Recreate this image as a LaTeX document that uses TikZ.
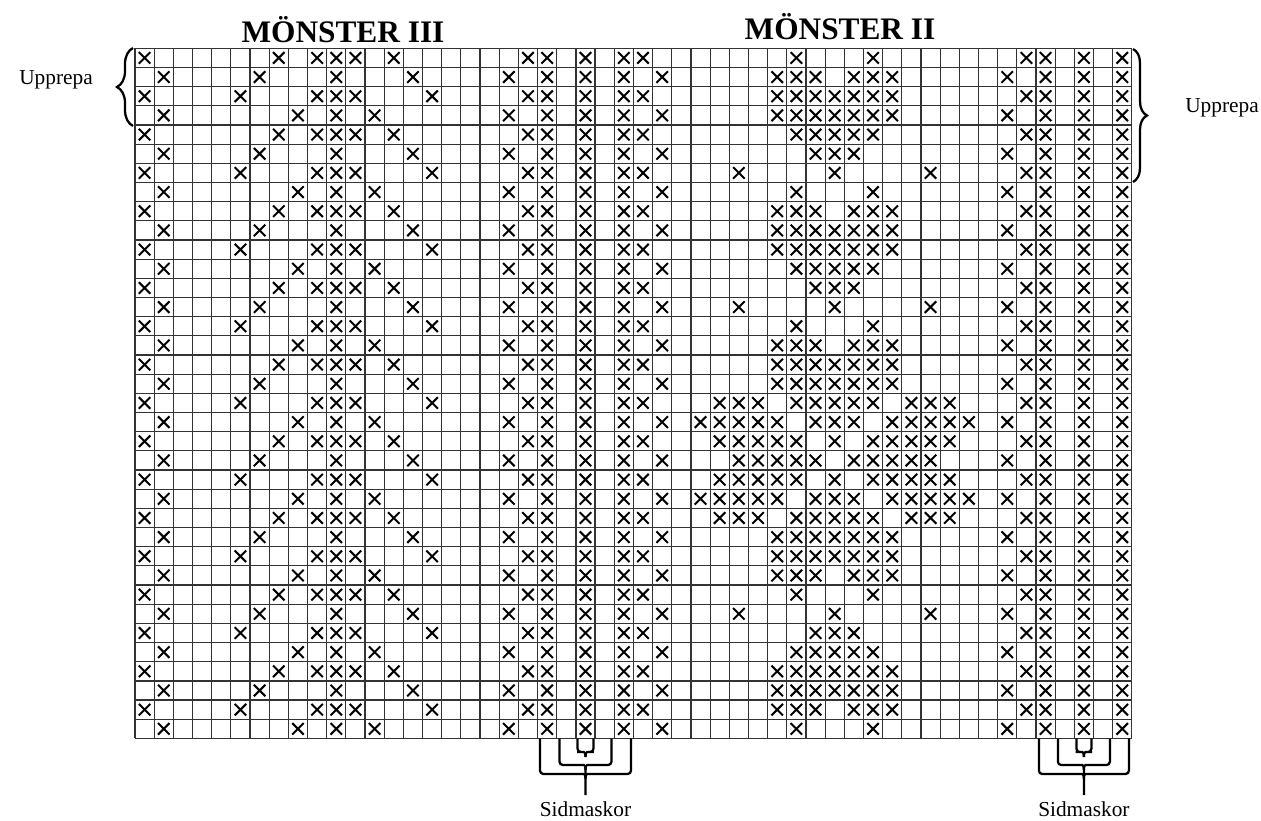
\documentclass[tikz,border=0pt]{standalone}
\usepackage{fontspec}
\setmainfont{Liberation Serif}
\usetikzlibrary{decorations.pathreplacing}
\tikzset{
  gl/.style={line width=0.9pt, draw=black!80},
  xmk/.style={line width=1.5pt},
  brc/.style={line width=1.7pt},
  lbl/.style={font=\fontsize{16}{18}\selectfont, inner sep=0pt, anchor=base},
  ttl/.style={font=\fontsize{23.5}{26}\selectfont\bfseries, inner sep=0pt, anchor=base},
}
\newcommand\xm[2]{\draw[xmk] ({#1+0.2},{#2+0.2}) -- ({#1+0.8},{#2+0.8}) ({#1+0.2},{#2+0.8}) -- ({#1+0.8},{#2+0.2});}
% bracket: center x, half width, bottom y, tip y
\newcommand\bkt[4]{%
  \draw[brc] ({#1-#2},738.5) [rounded corners=2.5pt] -- ({#1-#2},#3) -- ({#1-5},#3) [sharp corners]
     .. controls ({#1-1},#3) and (#1,{#3+1}) .. (#1,{#3+5}) -- (#1,#4);
  \draw[brc] ({#1+#2},738.5) [rounded corners=2.5pt] -- ({#1+#2},#3) -- ({#1+5},#3) [sharp corners]
     .. controls ({#1+1},#3) and (#1,{#3+1}) .. (#1,{#3+5});
}
\begin{document}
\begin{tikzpicture}[x=0.75pt,y=-0.75pt]
\useasboundingbox (0,0) rectangle (1261,821);
\begin{scope}[xshift=101.25pt,yshift=-36.225pt,x=14.3775pt,y=-14.3775pt]
  \foreach \i in {0,...,52} \draw[gl] (\i,0) -- (\i,36);
  \foreach \j in {0,...,36} \draw[gl] (0,\j) -- (52,\j);
  % Moenster III, period 4
  \foreach \b in {0,4,...,32} {
    \foreach \c in {0,7,9,10,11,13} \xm{\c}{\b};
    \foreach \c in {1,6,10,14} \xm{\c}{\b+1};
    \foreach \c in {0,5,9,10,11,15} \xm{\c}{\b+2};
    \foreach \c in {1,8,10,12} \xm{\c}{\b+3};
  }
  % side stitches, period 2
  \foreach \b in {0,2,...,34} {
    \foreach \c in {20,21,23,25,26,46,47,49,51} \xm{\c}{\b};
    \foreach \c in {19,21,23,25,27,45,47,49,51} \xm{\c}{\b+1};
  }
  % Moenster II
  \foreach \r/\cl in {
    0/{34,38}, 1/{33,34,35,37,38,39}, 2/{33,34,35,36,37,38,39}, 3/{33,34,35,36,37,38,39},
    4/{34,35,36,37,38}, 5/{35,36,37}, 6/{31,36,41},
    7/{34,38}, 8/{33,34,35,37,38,39}, 9/{33,34,35,36,37,38,39}, 10/{33,34,35,36,37,38,39},
    11/{34,35,36,37,38}, 12/{35,36,37}, 13/{31,36,41},
    14/{34,38}, 15/{33,34,35,37,38,39}, 16/{33,34,35,36,37,38,39}, 17/{33,34,35,36,37,38,39},
    18/{30,31,32,34,35,36,37,38,40,41,42},
    19/{29,30,31,32,33,35,36,37,39,40,41,42,43},
    20/{30,31,32,33,34,36,38,39,40,41,42},
    21/{31,32,33,34,35,37,38,39,40,41},
    22/{30,31,32,33,34,36,38,39,40,41,42},
    23/{29,30,31,32,33,35,36,37,39,40,41,42,43},
    24/{30,31,32,34,35,36,37,38,40,41,42},
    25/{33,34,35,36,37,38,39}, 26/{33,34,35,36,37,38,39}, 27/{33,34,35,37,38,39},
    28/{34,38}, 29/{31,36,41}, 30/{35,36,37}, 31/{34,35,36,37,38},
    32/{33,34,35,36,37,38,39}, 33/{33,34,35,36,37,38,39}, 34/{33,34,35,37,38,39}, 35/{34,38}}
    { \foreach \c in \cl \xm{\c}{\r}; }
\end{scope}
\node[ttl] (t3) at (343,42) {MÖNSTER III};
\node[ttl] (t2) at (840,39) {MÖNSTER II};
\node[lbl] (up1) at (56,84) {Upprepa};
\node[lbl] (up2) at (1222,112) {Upprepa};
\node[lbl] (sm1) at (585.5,816) {Sidmaskor};
\node[lbl] (sm2) at (1083.9,816) {Sidmaskor};
\draw[brc, decorate, decoration={brace, amplitude=12pt}] (133,126) -- (133,48);
\draw[brc, decorate, decoration={brace, amplitude=10.5pt}] (1133,49) -- (1133,182);
\bkt{585.5}{45.5}{774}{795}
\bkt{585.5}{26}{765}{775}
\bkt{585.5}{8}{752}{757}
\bkt{1083.9}{45}{774}{795}
\bkt{1083.9}{26}{765}{775}
\bkt{1083.9}{7.5}{752}{757}
\end{tikzpicture}
\end{document}
